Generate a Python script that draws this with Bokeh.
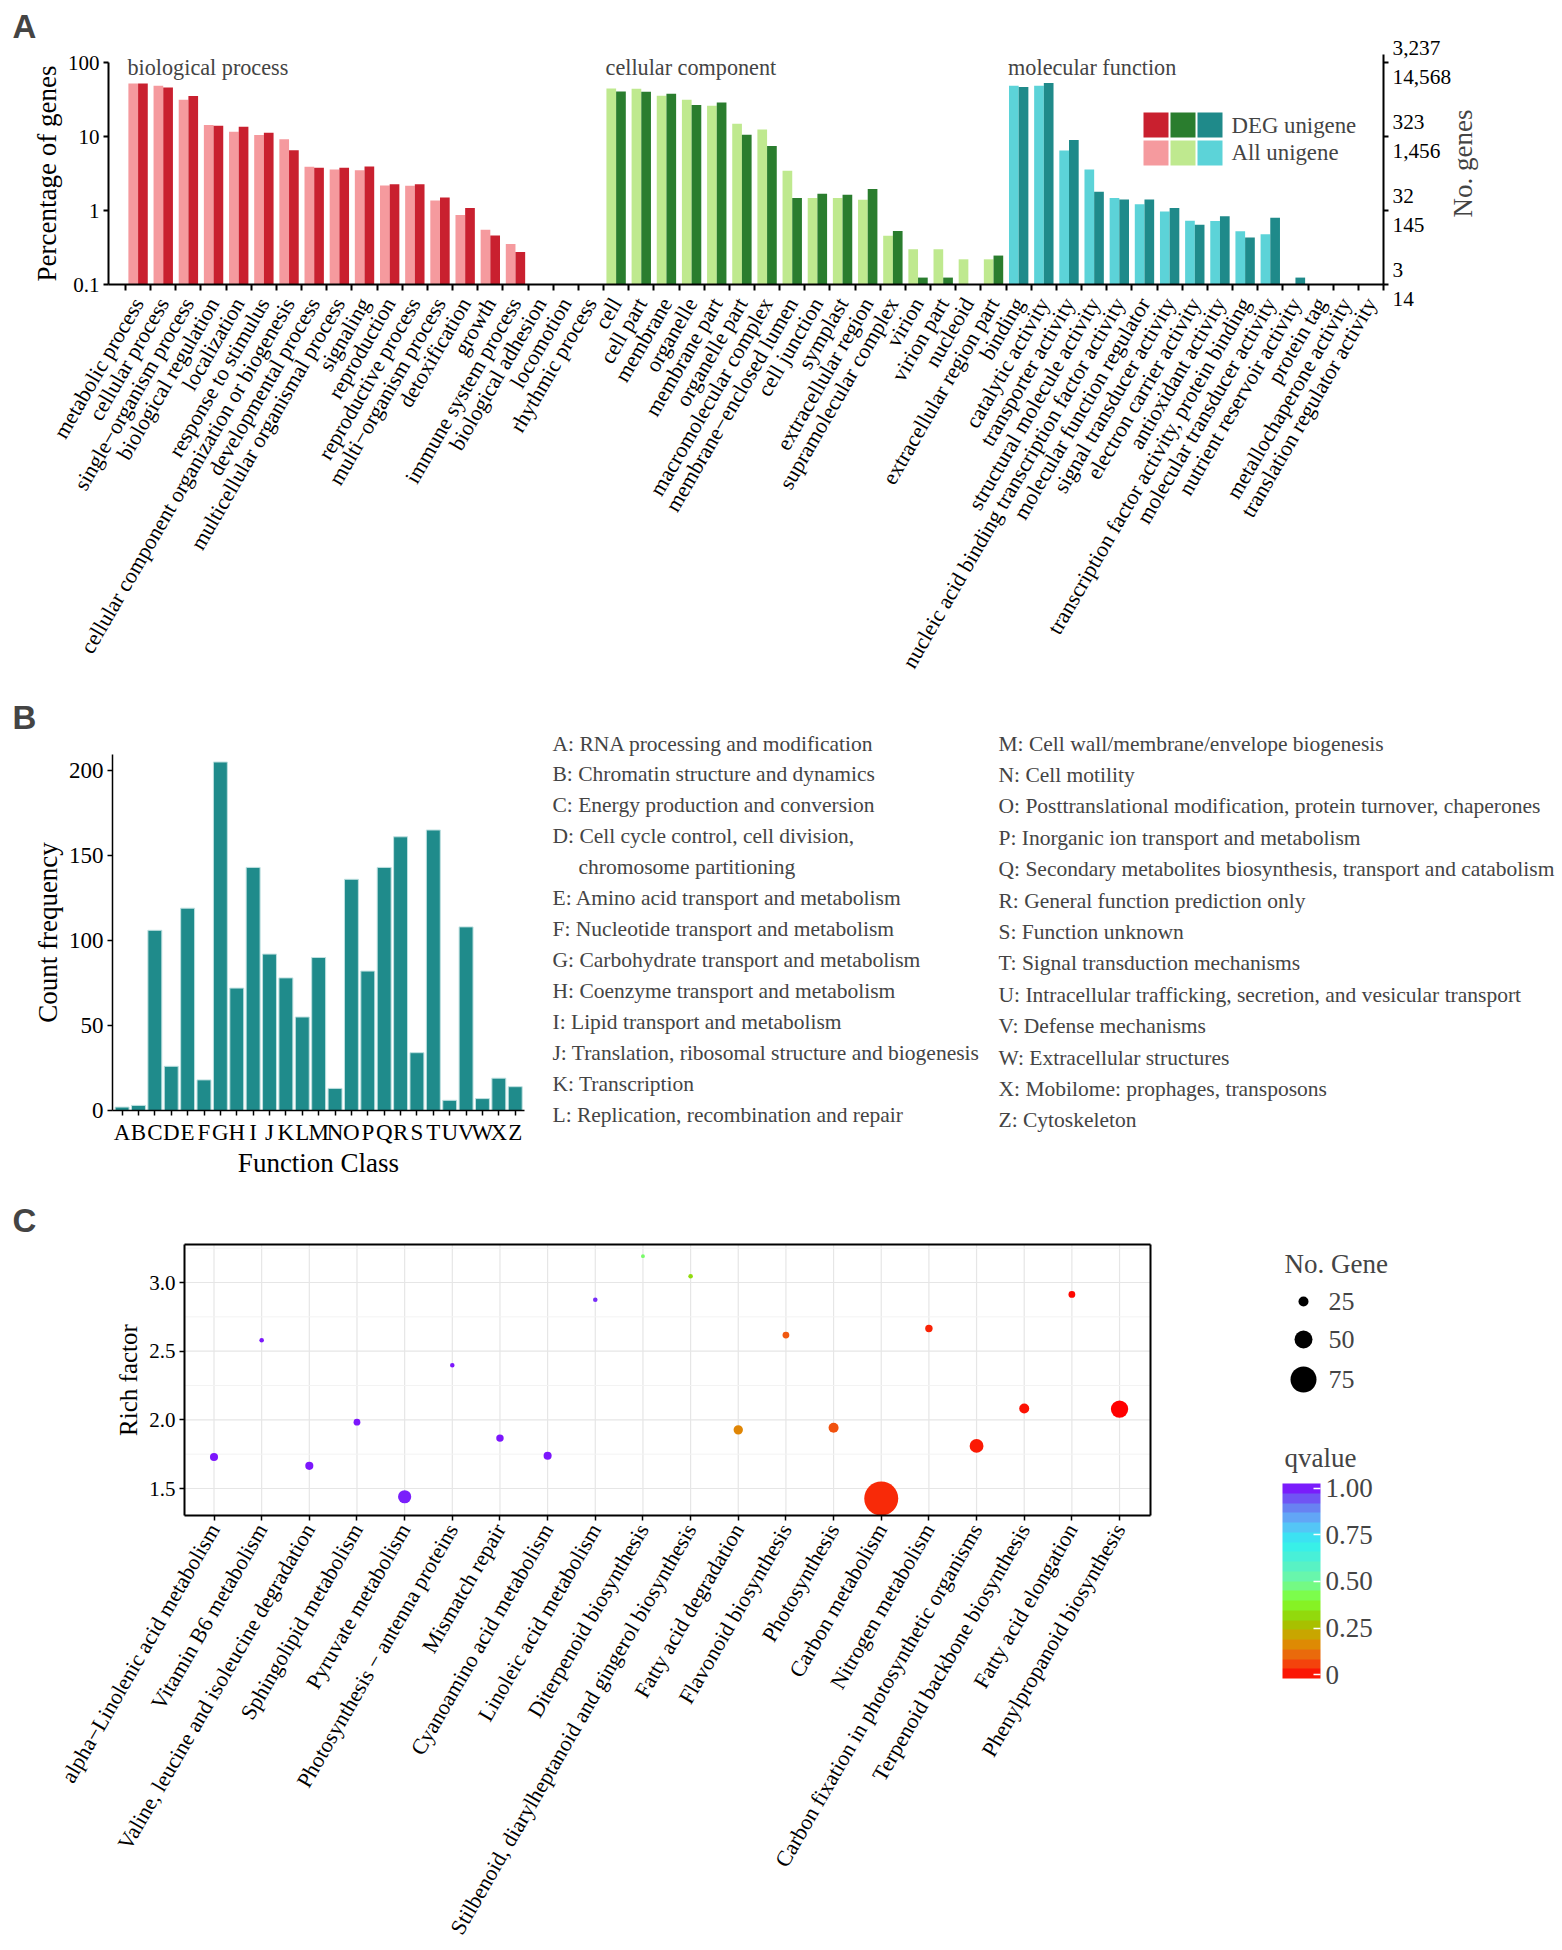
import math
from bokeh.plotting import figure
from bokeh.models import (Range1d, FixedTicker, LogAxis, LinearAxis, Label, BoxAnnotation,
                          ColorBar, LinearColorMapper, ColumnDataSource)
from bokeh.layouts import column
from bokeh.embed import file_html
from bokeh.resources import INLINE

SERIF = "Liberation Serif"
SANS = "Liberation Sans"
W = 1562

# ------------------------------------------------------------------ data A
bp_terms = ["metabolic process", "cellular process", "single\u2212organism process",
            "biological regulation", "localization", "response to stimulus",
            "cellular component organization or biogenesis", "developmental process",
            "multicellular organismal process", "signaling", "reproduction",
            "reproductive process", "multi\u2212organism process", "detoxification", "growth",
            "immune system process", "biological adhesion", "locomotion", "rhythmic process"]
bp_all = [52.0, 48.5, 31.4, 14.3, 11.6, 10.5, 9.2, 3.89, 3.58, 3.51, 2.18, 2.16, 1.37, 0.87,
          0.55, 0.353, None, None, None]
bp_deg = [52.0, 46.0, 35.2, 14.0, 13.5, 11.2, 6.5, 3.77, 3.77, 3.93, 2.27, 2.27, 1.50, 1.08,
          0.46, 0.275, None, None, None]

cc_terms = ["cell", "cell part", "membrane", "organelle", "membrane part", "organelle part",
            "macromolecular complex", "membrane\u2212enclosed lumen", "cell junction", "symplast",
            "extracellular region", "supramolecular complex", "virion", "virion part",
            "nucleoid", "extracellular region part"]
cc_all = [44.6, 44.2, 35.5, 31.4, 26.1, 14.9, 12.4, 3.44, 1.47, 1.47, 1.40, 0.457, 0.30, 0.30,
          0.219, 0.219]
cc_deg = [40.7, 40.3, 37.8, 26.6, 28.9, 10.6, 7.46, 1.47, 1.68, 1.63, 1.95, 0.528, 0.124, 0.124,
          None, 0.246]

mf_terms = ["binding", "catalytic activity", "transporter activity",
            "structural molecule activity", "nucleic acid binding transcription factor activity",
            "molecular function regulator", "signal transducer activity",
            "electron carrier activity", "antioxidant activity",
            "transcription factor activity, protein binding", "molecular transducer activity",
            "nutrient reservoir activity", "protein tag", "metallochaperone activity",
            "translation regulator activity"]
mf_all = [48.5, 48.5, 6.46, 3.58, 1.47, 1.21, 0.973, 0.728, 0.72, 0.523, 0.477, None, None,
          None, None]
mf_deg = [46.5, 52.7, 8.99, 1.79, 1.41, 1.41, 1.08, 0.643, 0.833, 0.43, 0.80, 0.124, None,
          None, None]

pct_ticks = [0.1, 1, 10, 100]
deg_counts = ["3", "32", "323", "3,237"]
all_counts = ["14", "145", "1,456", "14,568"]

# ------------------------------------------------------------------ data B
cog_letters = ["A", "B", "C", "D", "E", "F", "G", "H", "I", "J", "K", "L", "M", "N", "O", "P",
               "Q", "R", "S", "T", "U", "V", "W", "X", "Z"]
cog_counts = [2, 3, 106, 26, 119, 18, 205, 72, 143, 92, 78, 55, 90, 13, 136, 82, 143, 161, 34,
              165, 6, 108, 7, 19, 14]
cog_desc = ["RNA processing and modification", "Chromatin structure and dynamics",
            "Energy production and conversion",
            "Cell cycle control, cell division,|chromosome partitioning",
            "Amino acid transport and metabolism", "Nucleotide transport and metabolism",
            "Carbohydrate transport and metabolism", "Coenzyme transport and metabolism",
            "Lipid transport and metabolism", "Translation, ribosomal structure and biogenesis",
            "Transcription", "Replication, recombination and repair",
            "Cell wall/membrane/envelope biogenesis", "Cell motility",
            "Posttranslational modification, protein turnover, chaperones",
            "Inorganic ion transport and metabolism",
            "Secondary metabolites biosynthesis, transport and catabolism",
            "General function prediction only", "Function unknown",
            "Signal transduction mechanisms",
            "Intracellular trafficking, secretion, and vesicular transport",
            "Defense mechanisms", "Extracellular structures",
            "Mobilome: prophages, transposons", "Cytoskeleton"]
count_ticks = [0, 50, 100, 150, 200]

# ------------------------------------------------------------------ data C
kegg_terms = ["alpha\u2212Linolenic acid metabolism", "Vitamin B6 metabolism",
              "Valine, leucine and isoleucine degradation", "Sphingolipid metabolism",
              "Pyruvate metabolism", "Photosynthesis \u2212 antenna proteins", "Mismatch repair",
              "Cyanoamino acid metabolism", "Linoleic acid metabolism",
              "Diterpenoid biosynthesis",
              "Stilbenoid, diarylheptanoid and gingerol biosynthesis",
              "Fatty acid degradation", "Flavonoid biosynthesis", "Photosynthesis",
              "Carbon metabolism", "Nitrogen metabolism",
              "Carbon fixation in photosynthetic organisms", "Terpenoid backbone biosynthesis",
              "Fatty acid elongation", "Phenylpropanoid biosynthesis"]
rich_factor = [1.73, 2.58, 1.665, 1.983, 1.44, 2.398, 1.867, 1.738, 2.874, 3.192, 3.046, 1.927,
               2.617, 1.942, 1.427, 2.665, 1.81, 2.083, 2.913, 2.078]
gene_num = [19, 8, 19, 15, 35, 8, 17, 19, 8, 6, 8, 23, 15, 25, 100, 17, 37, 25, 15, 48]
qvalue = [0.98, 0.98, 0.98, 0.98, 0.97, 0.98, 0.98, 0.98, 0.96, 0.45, 0.33, 0.17, 0.10, 0.09,
          0.05, 0.04, 0.03, 0.02, 0.01, 0.0]
rich_ticks = [1.5, 2.0, 2.5, 3.0]
rich_minor = [1.75, 2.25, 2.75, 3.25]
size_legend = [25, 50, 75]
q_ticks = [0, 0.25, 0.5, 0.75, 1.0]
q_tick_labels = ["0", "0.25", "0.50", "0.75", "1.00"]

# ------------------------------------------------------------------ helpers
def hex2rgb(h):
    return tuple(int(h[i:i + 2], 16) for i in (1, 3, 5))

Q_STOPS = [(0.0, "#ff0000"), (0.1, "#f05a10"), (0.2, "#d89a00"), (0.3, "#98cc00"),
           (0.4, "#80ff30"), (0.5, "#70f8a0"), (0.6, "#50f0d0"), (0.7, "#30f0f0"),
           (0.8, "#60b8f8"), (0.9, "#6a70f0"), (1.0, "#8000ff")]

def qcolor(t):
    t = min(max(t, 0.0), 1.0)
    for (t0, c0), (t1, c1) in zip(Q_STOPS[:-1], Q_STOPS[1:]):
        if t <= t1:
            f = 0 if t1 == t0 else (t - t0) / (t1 - t0)
            a, b = hex2rgb(c0), hex2rgb(c1)
            return "#%02x%02x%02x" % tuple(int(round(x + (y - x) * f)) for x, y in zip(a, b))
    return Q_STOPS[-1][1]

def dot_size(n):
    return 2 + 0.32 * n

def make_fig(h, xr, yr, log=False):
    p = figure(width=W, height=h, x_range=Range1d(*xr), y_range=Range1d(*yr),
               y_axis_type="log" if log else "linear", x_axis_location=None,
               y_axis_location=None, output_backend="svg", toolbar_location=None, title=None,
               min_border=0, min_border_left=0, min_border_right=0, min_border_top=0,
               min_border_bottom=0)
    p.outline_line_color = None
    p.grid.visible = False
    return p

def style_axis(ax, size="21px", width=2.0, tick_out=5):
    ax.major_label_text_font = SERIF
    ax.major_label_text_font_size = size
    ax.major_label_text_color = "black"
    ax.axis_label_text_font = SERIF
    ax.axis_label_text_font_style = "normal"
    ax.axis_label_text_color = "black"
    ax.axis_line_width = width
    ax.axis_line_color = "black"
    ax.major_tick_line_width = width
    ax.major_tick_line_color = "black"
    ax.major_tick_out = tick_out
    ax.major_tick_in = 0
    ax.minor_tick_line_color = None
    ax.major_label_standoff = 4

def lab(p, x, y, text, size="22px", font=SERIF, **kw):
    p.add_layout(Label(x=x, y=y, x_units="screen", y_units="screen", text=text,
                       text_font=font, text_font_size=size, **kw))

# ================================================================== PANEL A
# layout constants (reference pixels; page origin at 0,0)
A_TOP, A_H = 0, 700
A_BOT = A_TOP + A_H
AX0, AXU = 125.0, 25.16     # x of first category boundary, px per category
AY100, ADEC = 62.0, 74.0    # y of 100 %, px per decade

def a_u(rx):
    return (rx - AX0) / AXU

def a_v(ry):
    return 10 ** (2 - (ry - AY100) / ADEC)

groups = [("biological process", bp_terms, bp_all, bp_deg, "#f59a9e", "#c9202f"),
          ("cellular component", cc_terms, cc_all, cc_deg, "#bfe98f", "#2a7d2e"),
          ("molecular function", mf_terms, mf_all, mf_deg, "#5cd3d8", "#1f8a8a")]
all_terms = bp_terms + cc_terms + mf_terms
N = len(all_terms)

pA = make_fig(A_H, (a_u(0), a_u(W)), (a_v(A_BOT), a_v(A_TOP)), log=True)

bars = dict(l=[], r=[], t=[], c=[])
starts = []
off = 0
for name, terms, av, dv, light, dark in groups:
    starts.append(off)
    for i, (a, d) in enumerate(zip(av, dv)):
        k = off + i
        if a is not None:
            bars["l"].append(k + 0.115); bars["r"].append(k + 0.5)
            bars["t"].append(a); bars["c"].append(light)
        if d is not None:
            bars["l"].append(k + 0.5); bars["r"].append(k + 0.885)
            bars["t"].append(d); bars["c"].append(dark)
    off += len(terms)
pA.quad(left="l", right="r", top="t", bottom=min(pct_ticks), fill_color="c", line_color=None,
        source=ColumnDataSource(bars))

xleft_A = a_u(108)
ya = LogAxis(fixed_location=xleft_A, bounds=(min(pct_ticks), max(pct_ticks)),
             ticker=FixedTicker(ticks=pct_ticks),
             major_label_overrides={t: "%g" % t for t in pct_ticks})
style_axis(ya, "21px")
ya.axis_label = "Percentage of genes"
ya.axis_label_text_font_size = "27px"
ya.axis_label_standoff = 3
pA.add_layout(ya, "left")

xa = LinearAxis(fixed_location=min(pct_ticks), bounds=(xleft_A, N),
                ticker=FixedTicker(ticks=[k + 0.5 for k in range(N)],
                                   minor_ticks=list(range(N + 1))),
                major_label_overrides={k + 0.5: t for k, t in enumerate(all_terms)})
style_axis(xa, "22px")
xa.major_label_orientation = math.pi / 3
xa.major_tick_line_color = None
xa.major_tick_out = 0
xa.minor_tick_line_color = "black"
xa.minor_tick_line_width = 2
xa.minor_tick_out = 6
xa.minor_tick_in = 0
xa.major_label_standoff = 9
pA.add_layout(xa, "below")

ra = LogAxis(fixed_location=N, bounds=(min(pct_ticks), a_v(54)),
             ticker=FixedTicker(ticks=pct_ticks),
             major_label_overrides={t: d + "\n" + a for t, d, a in
                                    zip(pct_ticks, deg_counts, all_counts)})
style_axis(ra, "21.3px")
pA.add_layout(ra, "right")

lab(pA, 1462, A_BOT - 163, "No. genes", size="27px", angle=math.pi / 2,
    text_align="center", text_baseline="middle")

for (name, *_), s in zip(groups, starts):
    lab(pA, AX0 + (s + 0.08) * AXU, A_BOT - 66.5, name, size="22.2px",
        text_baseline="alphabetic")

sq_cols = [(1143, 1168), (1170, 1195), (1197, 1222)]
sq_rows = [(112, 137), (140, 165)]
for (name, terms, av, dv, light, dark), (x0, x1) in zip(groups, sq_cols):
    for (y0, y1), col in zip(sq_rows, [dark, light]):
        pA.add_layout(BoxAnnotation(left=x0, right=x1, top=A_BOT - y0,
                                    bottom=A_BOT - y1, left_units="screen",
                                    right_units="screen", top_units="screen",
                                    bottom_units="screen", fill_color=col, fill_alpha=1,
                                    line_color=None))
for txt, yb in [("DEG unigene", 124.5), ("All unigene", 151.5)]:
    lab(pA, 1231, A_BOT - yb, txt, size="22.8px", text_baseline="alphabetic")

lab(pA, 12, A_BOT - 26, "A", size="33px", font=SANS, text_font_style="bold",
    text_baseline="alphabetic")

# ================================================================== PANEL B
B_TOP, B_H = 700, 490
B_BOT = B_TOP + B_H
BX0, BXU = 121.6, 16.38     # x of first bar centre, px per bar
BY0, BYU = 1110.0, 1.7      # y of zero, px per count

def b_u(rx):
    return (rx - BX0) / BXU

def b_v(ry):
    return (BY0 - ry) / BYU

pB = make_fig(B_H, (b_u(0), b_u(W)), (b_v(B_BOT), b_v(B_TOP)))
pB.vbar(x=list(range(len(cog_letters))), top=cog_counts, width=0.85, bottom=0,
        fill_color="#1f8b8b", line_color="#bfe0e0", line_width=1)

yb_ax = LinearAxis(fixed_location=b_u(112), bounds=(0, b_v(754)),
                   ticker=FixedTicker(ticks=count_ticks))
style_axis(yb_ax, "23px", width=1.5)
yb_ax.axis_label = "Count frequency"
yb_ax.axis_label_text_font_size = "27px"
yb_ax.axis_label_standoff = 3
pB.add_layout(yb_ax, "left")

xb_ax = LinearAxis(fixed_location=0, bounds=(b_u(112), b_u(524)),
                   ticker=FixedTicker(ticks=list(range(len(cog_letters)))),
                   major_label_overrides={i: l for i, l in enumerate(cog_letters)})
style_axis(xb_ax, "23px", width=1.5)
xb_ax.axis_label = "Function Class"
xb_ax.axis_label_text_font_size = "27px"
xb_ax.axis_label_standoff = 0
pB.add_layout(xb_ax, "below")

lab(pB, 12, B_BOT - 717, "B", size="33px", font=SANS, text_font_style="bold",
    text_baseline="alphabetic")

col_specs = [(0, 12, 552, 30.96), (12, 25, 998, 31.4)]
for i0, i1, xref, step in col_specs:
    line = 0
    for i in range(i0, i1):
        parts = cog_desc[i].split("|")
        for j, part in enumerate(parts):
            txt = cog_letters[i] + ": " + part if j == 0 else part
            xx = xref if j == 0 else xref + 26
            lab(pB, xx, B_BOT - (743 + step * line), txt, size="21.5px",
                text_baseline="middle")
            line += 1

# ================================================================== PANEL C
C_TOP, C_H = 1190, 760
C_BOT = C_TOP + C_H
CX0, CXU = 213.5, 47.66     # x of first pathway, px per pathway
CY15, CYU = 1488.0, 137.33  # y of rich factor 1.5, px per unit

def c_u(rx):
    return (rx - CX0) / CXU

def c_v(ry):
    return 1.5 + (CY15 - ry) / CYU

pC = make_fig(C_H, (c_u(0), c_u(W)), (c_v(C_BOT), c_v(C_TOP)))
bx0, bx1 = c_u(184), c_u(1150)
by0, by1 = c_v(1515), c_v(1244)
n_k = len(kegg_terms)

# panel grid
pC.segment(x0=list(range(n_k)), x1=list(range(n_k)), y0=[by0] * n_k, y1=[by1] * n_k,
           line_color="#e6e6e6", line_width=1.2)
pC.segment(x0=[bx0] * len(rich_minor), x1=[bx1] * len(rich_minor), y0=rich_minor,
           y1=rich_minor, line_color="#f3f3f3", line_width=1)
pC.segment(x0=[bx0] * len(rich_ticks), x1=[bx1] * len(rich_ticks), y0=rich_ticks,
           y1=rich_ticks, line_color="#e6e6e6", line_width=1.2)

pt_mapper = LinearColorMapper(palette=[qcolor(i / 255) for i in range(256)], low=0, high=1)
srcC = ColumnDataSource(dict(x=list(range(n_k)), y=rich_factor,
                             s=[dot_size(n) for n in gene_num], q=qvalue))
pC.scatter(x="x", y="y", size="s", source=srcC, line_color=None,
           fill_color={"field": "q", "transform": pt_mapper})

yc_ax = LinearAxis(fixed_location=bx0, bounds=(by0, by1), ticker=FixedTicker(ticks=rich_ticks),
                   major_label_overrides={v: "%.1f" % v for v in rich_ticks})
style_axis(yc_ax, "21px", width=2)
yc_ax.major_tick_line_width = 1.5
yc_ax.axis_label = "Rich factor"
yc_ax.axis_label_text_font_size = "25px"
yc_ax.axis_label_standoff = 4
pC.add_layout(yc_ax, "left")

xc_ax = LinearAxis(fixed_location=by0, bounds=(bx0, bx1),
                   ticker=FixedTicker(ticks=list(range(n_k))),
                   major_label_overrides={i: t for i, t in enumerate(kegg_terms)})
style_axis(xc_ax, "22px", width=2)
xc_ax.major_tick_line_width = 1.5
xc_ax.major_label_orientation = math.pi / 3
xc_ax.major_label_standoff = 5
pC.add_layout(xc_ax, "below")

for loc, side, bnd in [(bx1, "right", (by0, by1)), (by1, "above", (bx0, bx1))]:
    edge = LinearAxis(fixed_location=loc, bounds=bnd, ticker=FixedTicker(ticks=[]))
    style_axis(edge, "21px", width=2)
    pC.add_layout(edge, side)

lab(pC, 12, C_BOT - 1220, "C", size="33px", font=SANS, text_font_style="bold",
    text_baseline="alphabetic")

# legends of panel C
dot_y = [1301, 1339, 1379]
pC.scatter(x=[c_u(1303)] * len(size_legend), y=[c_v(v) for v in dot_y],
           size=[dot_size(n) for n in size_legend], fill_color="black", line_color=None)
for n, yy in zip(size_legend, dot_y):
    lab(pC, 1328, C_BOT - yy, str(n), size="26px", text_baseline="middle")
lab(pC, 1284, C_BOT - 1263, "No. Gene", size="27px", text_baseline="middle")
lab(pC, 1284, C_BOT - 1457, "qvalue", size="27px", text_baseline="middle")

bar_mapper = LinearColorMapper(palette=[qcolor((i + 0.5) / 20) for i in range(20)],
                               low=-0.02, high=1.025)
cb = ColorBar(color_mapper=bar_mapper, ticker=FixedTicker(ticks=q_ticks),
              major_label_overrides={t: s for t, s in zip(q_ticks, q_tick_labels)},
              location=(1282, C_BOT - 1678), orientation="vertical", width=38,
              height=195, padding=0, margin=0, background_fill_color=None,
              border_line_color=None, bar_line_color=None, major_tick_line_color="white",
              major_tick_line_width=1.5, major_tick_in=7, major_tick_out=0,
              minor_tick_line_color=None, label_standoff=5,
              major_label_text_font=SERIF, major_label_text_font_size="27px")
pC.add_layout(cb)

layout = column(pA, pB, pC)
open("out.html", "w").write(file_html(layout, INLINE))
